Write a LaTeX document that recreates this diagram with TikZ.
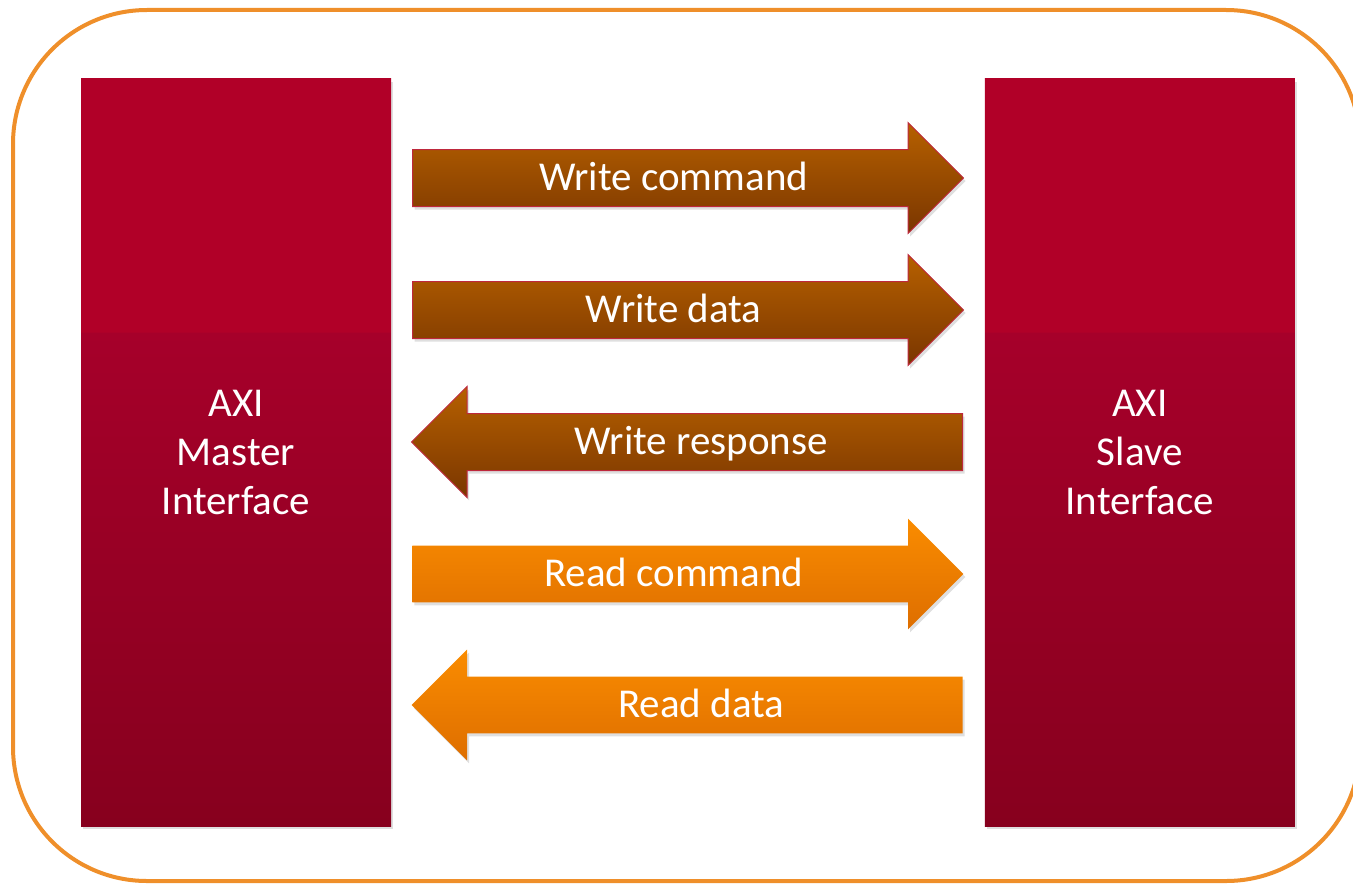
\documentclass[tikz,border=0pt]{standalone}
\usepackage{fontspec}
\setmainfont{Carlito}
\usetikzlibrary{shapes,arrows,positioning,shadows}
\definecolor{FrameOrange}{RGB}{239,143,42}
\definecolor{BlockTop}{RGB}{177,0,40}
\definecolor{BlockMid}{RGB}{166,0,42}
\definecolor{BlockBot}{RGB}{135,0,30}
\definecolor{WriteTop}{RGB}{182,96,0}
\definecolor{WriteBot}{RGB}{122,54,0}
\definecolor{WriteEdge}{RGB}{190,40,60}
\definecolor{ReadTop}{RGB}{250,140,0}
\definecolor{ReadBot}{RGB}{222,110,0}
\pgfdeclareverticalshading{BlockShade}{100bp}{color(0bp)=(BlockBot); color(25bp)=(BlockBot); color(58bp)=(BlockMid); color(58.1bp)=(BlockTop); color(100bp)=(BlockTop)}
\tikzstyle{Iface} = [rectangle, shading=BlockShade, minimum width=155pt, minimum height=373.5pt, align=center, text=white, font=\fontsize{20.5}{24.5}\selectfont, drop shadow={opacity=0.25, shadow xshift=1pt, shadow yshift=-1.5pt}]
\tikzstyle{Channel} = [single arrow, single arrow head extend=13.5pt, single arrow head indent=0pt, minimum height=275.5pt, text height=15pt, text depth=3pt, inner ysep=5pt, text=white, font=\fontsize{20.5}{24.5}\selectfont, anchor=tail, drop shadow={opacity=0.25, shadow xshift=1pt, shadow yshift=-1.5pt}]
\tikzstyle{WriteCh} = [Channel, top color=WriteTop, bottom color=WriteBot, draw=WriteEdge, line width=0.5pt]
\tikzstyle{ReadCh} = [Channel, top color=ReadTop, bottom color=ReadBot]
\tikzstyle{ToMaster} = [shape border rotate=180]

\begin{document}
\begin{tikzpicture}[x=0.5pt, y=-0.5pt]
    \useasboundingbox (0,0) rectangle (1353,883);
    \draw[FrameOrange, line width=2pt, rounded corners=67pt] (13,10) rectangle (1360,881);
    % interfaces
    \node[Iface] (master) at (236,452.5)            {AXI\\Master\\Interface};
    \node[Iface] (slave)  [right=296.5pt of master] {AXI\\Slave\\Interface};
    % channels
    \node[WriteCh]           (w_cmd)  at (412,178) {Write command};
    \node[WriteCh]           (w_data) at (412,310) {Write data};
    \node[WriteCh, ToMaster] (w_resp) at (963,442) {Write response};
    \node[ReadCh]            (r_cmd)  at (412,574) {Read command};
    \node[ReadCh, ToMaster]  (r_data) at (963,705) {Read data};
  \end{tikzpicture}
\end{document}
